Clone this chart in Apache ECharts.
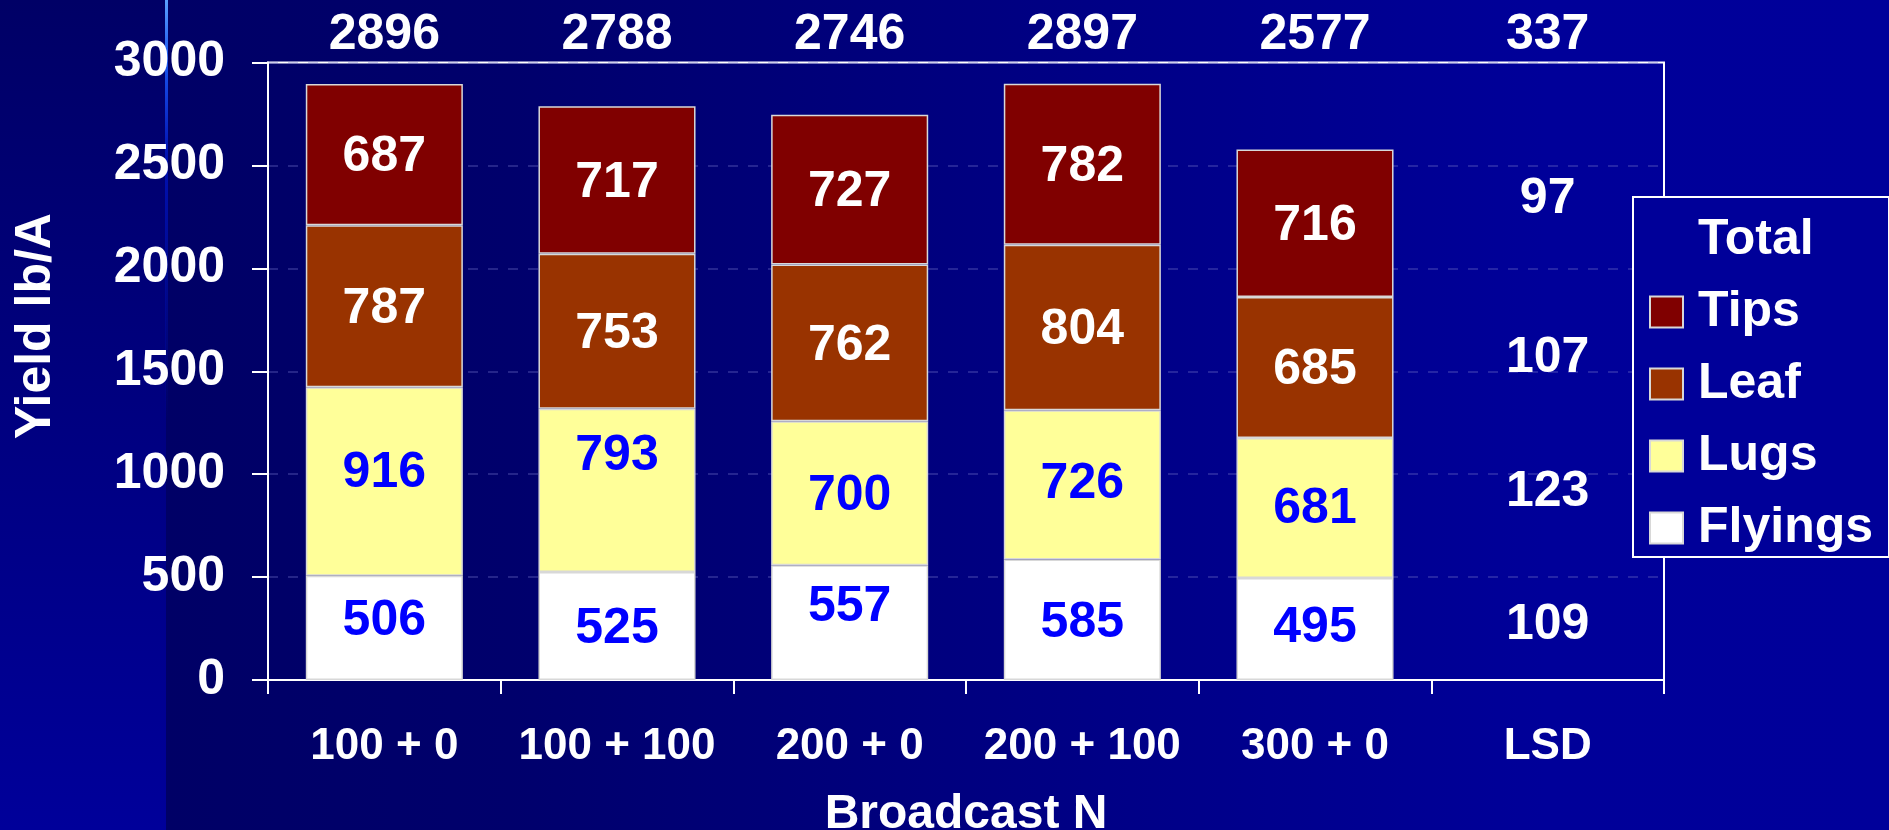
<!DOCTYPE html>
<html>
<head>
    <meta charset="utf-8" />
    <title>Yield by Broadcast N</title>
    <script src="https://cdn.jsdelivr.net/npm/echarts@6/dist/echarts.min.js"></script>
    <style>
        html, body {
            margin: 0;
            padding: 0;
            overflow: hidden;
        }

        #chart {
            width: 1889px;
            height: 830px;
            /* slide background: light streak, left strip, main gradient */
            background:
                linear-gradient(to bottom, #5aa0ff 0, #1a55ee 60px, #0010b0 160px, rgba(0, 0, 153, 0) 420px) 165px 0 / 3px 100% no-repeat,
                linear-gradient(to bottom, #000066, #00009a) 0 0 / 166px 100% no-repeat,
                linear-gradient(to right, #000066 0, #00006c 20%, #000099 80%, #00009a 100%) 166px 0 / 1723px 100% no-repeat;
        }
    </style>
</head>
<body>
    <div id="chart"></div>
    <script type="text/javascript">
        var categories = ['100 + 0', '100 + 100', '200 + 0', '200 + 100', '300 + 0', 'LSD'];
        var flyings = [506, 525, 557, 585, 495, null];
        var lugs = [916, 793, 700, 726, 681, null];
        var leaf = [787, 753, 762, 804, 685, null];
        var tips = [687, 717, 727, 782, 716, null];
        var totals = [2896, 2788, 2746, 2897, 2577, 337];
        // LSD values, bottom (Flyings) to top (Tips)
        var lsd = [109, 123, 107, 97];

        var font = "'Liberation Sans', Arial, sans-serif";
        var white = '#ffffff';

        // small hand nudges of the value labels, in px (same order as data)
        var baseNudge = 3;
        var flyNudge = [-10, 0, -18, 0, -4];
        var lugNudge = [-11, -37, 0, -4, -2];
        var lsdNudge = [-3, -2, 20, 14];

        function withNudge(values, nudges) {
            return values.map(function (v, i) {
                if (v == null) return null;
                var dy = baseNudge + (nudges ? (nudges[i] || 0) : 0);
                return { value: v, label: { offset: [0, dy] } };
            });
        }

        // LSD labels sit at the mean middle of each layer across treatments
        var layers = [flyings, lugs, leaf, tips];
        var lsdPoints = layers.map(function (layer, k) {
            var sum = 0, n = 0;
            for (var i = 0; i < 5; i++) {
                var below = 0;
                for (var j = 0; j < k; j++) below += layers[j][i];
                sum += below + layer[i] / 2;
                n++;
            }
            return { value: ['LSD', sum / n], label: { offset: [0, baseNudge + lsdNudge[k]] } };
        });

        function barSeries(name, data, color, labelColor) {
            return {
                name: name,
                type: 'bar',
                stack: 'yield',
                data: data,
                barWidth: '67.5%',
                itemStyle: { color: color, borderColor: '#d8d8d8', borderWidth: 1.5 },
                label: {
                    show: true,
                    position: 'inside',
                    color: labelColor,
                    fontFamily: font,
                    fontWeight: 'bold',
                    fontSize: 50
                },
                emphasis: { disabled: true }
            };
        }

        var chart = echarts.init(document.getElementById('chart'), null, { renderer: 'canvas' });

        var option = {
            backgroundColor: 'transparent',
            animation: false,
            textStyle: { fontFamily: font },
            grid: {
                left: 268,
                right: 1889 - 1664,
                top: 62.5,
                bottom: 830 - 680,
                outerBoundsMode: 'none',
                show: true,
                borderColor: white,
                borderWidth: 2,
                backgroundColor: 'transparent'
            },
            legend: {
                orient: 'vertical',
                left: 1633,
                top: 197,
                padding: [18, 16, 4, 16],
                itemWidth: 33,
                itemHeight: 31,
                itemGap: 22,
                backgroundColor: '#000099',
                borderColor: white,
                borderWidth: 2,
                borderRadius: 0,
                selectedMode: false,
                textStyle: {
                    color: white,
                    fontFamily: font,
                    fontWeight: 'bold',
                    fontSize: 50,
                    lineHeight: 50,
                    padding: [0, 0, 0, 10]
                },
                data: [
                    { name: 'Total', icon: 'none' },
                    { name: 'Tips', icon: 'rect' },
                    { name: 'Leaf', icon: 'rect' },
                    { name: 'Lugs', icon: 'rect' },
                    { name: 'Flyings', icon: 'rect' }
                ]
            },
            xAxis: [{
                type: 'category',
                data: categories,
                axisLine: { lineStyle: { color: white, width: 2 } },
                axisTick: { show: true, length: 14, lineStyle: { color: white, width: 2 } },
                axisLabel: {
                    interval: 0,
                    color: white,
                    fontFamily: font,
                    fontWeight: 'bold',
                    fontSize: 44,
                    margin: 45
                },
                name: 'Broadcast N',
                nameLocation: 'middle',
                nameGap: 111,
                nameTextStyle: {
                    color: white,
                    fontFamily: font,
                    fontWeight: 'bold',
                    fontSize: 48
                }
            }, {
                type: 'category',
                position: 'top',
                data: totals.map(String),
                axisLine: { show: false },
                axisTick: { show: false },
                splitLine: { show: false },
                axisLabel: {
                    interval: 0,
                    color: white,
                    fontFamily: font,
                    fontWeight: 'bold',
                    fontSize: 50,
                    margin: 2
                }
            }],
            yAxis: {
                type: 'value',
                min: 0,
                max: 3000,
                interval: 500,
                axisLine: { show: true, lineStyle: { color: white, width: 2 } },
                axisTick: { show: true, length: 16, lineStyle: { color: white, width: 2 } },
                axisLabel: {
                    color: white,
                    fontFamily: font,
                    fontWeight: 'bold',
                    fontSize: 50,
                    margin: 43,
                    formatter: function (v) { return String(v); }
                },
                splitLine: {
                    show: true,
                    lineStyle: { color: 'rgba(110, 110, 200, 0.45)', width: 1.5, type: [10, 10] }
                }
            },
            graphic: [{
                type: 'text',
                x: 36,
                y: 326,
                rotation: Math.PI / 2,
                silent: true,
                style: {
                    text: 'Yield lb/A',
                    fill: white,
                    font: 'bold 50px ' + font,
                    align: 'center',
                    verticalAlign: 'middle'
                }
            }],
            series: [
                barSeries('Flyings', withNudge(flyings, flyNudge), '#ffffff', '#0000ff'),
                barSeries('Lugs', withNudge(lugs, lugNudge), '#ffff99', '#0000ff'),
                barSeries('Leaf', withNudge(leaf), '#993300', white),
                barSeries('Tips', withNudge(tips), '#800000', white),
                {
                    name: 'Total',
                    type: 'line',
                    data: []
                },
                {
                    name: 'LSD',
                    type: 'scatter',
                    data: lsdPoints,
                    symbolSize: 1,
                    itemStyle: { color: 'rgba(0,0,0,0)', opacity: 1 },
                    label: {
                        show: true,
                        position: 'inside',
                        color: white,
                        opacity: 1,
                        fontFamily: font,
                        fontWeight: 'bold',
                        fontSize: 50,
                        formatter: function (p) {
                            return String(lsd[p.dataIndex]);
                        }
                    },
                    emphasis: { disabled: true }
                }
            ]
        };

        chart.setOption(option);
    </script>
</body>
</html>
